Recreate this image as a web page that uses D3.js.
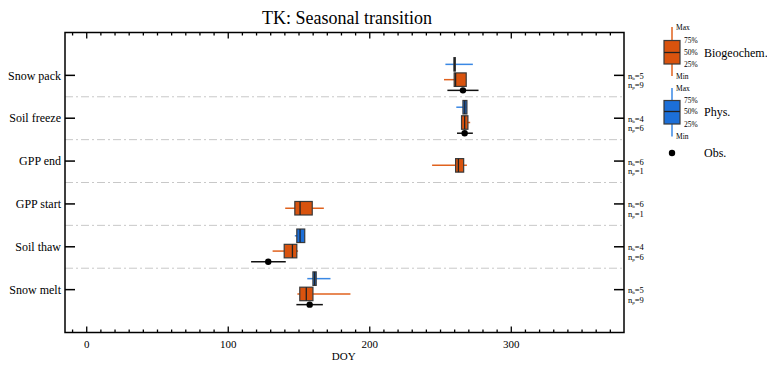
<!DOCTYPE html>
<html>
<head>
<meta charset="utf-8">
<script src="https://cdn.jsdelivr.net/npm/d3@7"></script>
<style>
  body { margin: 0; background: #fff; }
  svg, svg text { font-family: "Liberation Serif", "DejaVu Serif", serif !important; }
</style>
</head>
<body>
<div id="chart"></div>
<script>
// categories, top to bottom
const categories = ["Snow pack", "Soil freeze", "GPP end", "GPP start", "Soil thaw", "Snow melt"];
// [min, q1, median, q3, max] in DOY
const bioStats = [
  [252.8, 260.0, 261.0, 268.5, 268.5],
  [265.0, 265.2, 267.4, 269.7, 271.3],
  [244.4, 261.0, 263.0, 266.7, 269.0],
  [140.6, 147.4, 151.1, 159.7, 167.9],
  [131.7, 139.9, 145.7, 148.8, 149.7],
  [149.2, 150.9, 155.5, 160.2, 186.7]
];
const physStats = [
  [253.8, 259.8, 260.3, 260.8, 273.2],
  [261.5, 266.2, 267.5, 269.0, 269.0],
  null,
  null,
  [147.4, 148.8, 151.1, 154.4, 154.6],
  [156.2, 160.2, 161.4, 162.5, 172.6]
];
// [low, value, high]
const obsStats = [
  [255.2, 266.2, 277.2],
  [262.0, 267.4, 273.2],
  null,
  null,
  [116.5, 128.6, 141.0],
  [148.5, 157.9, 167.2]
];
const nBio = [5, 4, 6, 6, 4, 5];
const nPhys = [9, 6, 1, 1, 6, 9];
const xTicks = [0, 100, 200, 300];

const orange = "#d9530e", orangeLine = "#e0621e";
const blue = "#1c6fd8", blueLine = "#3a88e4";

const width = 767, height = 365;
const margin = { top: 32.5, right: 143, bottom: 32.5, left: 65 };
const plotW = width - margin.left - margin.right;
const plotH = height - margin.top - margin.bottom;

const svg = d3.select("#chart").append("svg")
  .attr("width", width).attr("height", height)
  .attr("font-family", "Liberation Serif, serif");

const x = d3.scaleLinear().domain([-15, 380]).range([margin.left, margin.left + plotW]);
const y = d3.scaleLinear().domain([0, 7]).range([margin.top + plotH, margin.top]);
const catY = i => y(categories.length - i);

// title
svg.append("text")
  .attr("x", 347).attr("y", 24)
  .attr("text-anchor", "middle")
  .style("font-size", "18px")
  .text("TK: Seasonal transition");

// separators
const seps = d3.range(1.5, 6, 1);
svg.append("g").selectAll("line").data(seps).join("line")
  .attr("x1", margin.left).attr("x2", margin.left + plotW)
  .attr("y1", d => y(d)).attr("y2", d => y(d))
  .attr("stroke", "#c8c8c8").attr("stroke-width", 1)
  .attr("stroke-dasharray", "8,3,2,3");

// x axes (inward ticks)
const minor = d3.range(-10, 380, 10).filter(v => v % 100 !== 0);
function xAxisGroup(gen, yPos, labels) {
  const g = svg.append("g").attr("transform", `translate(0,${yPos})`);
  g.call(gen(x).tickValues(minor).tickSize(-3).tickFormat(""))
    .call(s => s.select(".domain").remove());
  g.append("g").call(gen(x).tickValues(xTicks).tickSize(-6).tickFormat(labels ? d3.format("d") : ""))
    .call(s => s.select(".domain").remove());
  g.selectAll("line").attr("stroke", "#000").attr("stroke-width", 1.3);
  g.selectAll("g").attr("font-family", null);
  return g;
}
const bottomAx = xAxisGroup(d3.axisBottom, margin.top + plotH, true);
bottomAx.selectAll("text").attr("y", 8).style("font-size", "11px");
xAxisGroup(d3.axisTop, margin.top, false);

svg.append("text")
  .attr("x", x(182)).attr("y", 360)
  .attr("text-anchor", "middle")
  .style("font-size", "11px")
  .text("DOY");

// category ticks left and right
const rows = svg.append("g").selectAll("g").data(categories).join("g");
rows.append("line")
  .attr("x1", margin.left).attr("x2", margin.left + 10)
  .attr("y1", (d, i) => catY(i)).attr("y2", (d, i) => catY(i))
  .attr("stroke", "#000").attr("stroke-width", 1.5);
rows.append("line")
  .attr("x1", margin.left + plotW - 10).attr("x2", margin.left + plotW)
  .attr("y1", (d, i) => catY(i)).attr("y2", (d, i) => catY(i))
  .attr("stroke", "#000").attr("stroke-width", 1.5);
rows.append("text")
  .attr("x", margin.left - 4).attr("y", (d, i) => catY(i))
  .attr("dy", "0.35em").attr("text-anchor", "end")
  .style("font-size", "12px")
  .text(d => d);

// n labels on the right
const nx = margin.left + plotW + 4;
const nLabel = (letter, vals, dy) => rows.append("text")
  .attr("x", nx)
  .attr("y", (d, i) => catY(i) + dy)
  .style("font-size", "8.5px")
  .each(function (d, i) {
    const t = d3.select(this);
    t.append("tspan").text("n");
    t.append("tspan").attr("dy", 1).style("font-size", "5px").text(letter);
    t.append("tspan").attr("dy", -1).text("=" + vals[i]);
  });
nLabel("b", nBio, 3.5);
nLabel("p", nPhys, 13);

// box drawing
const boxH = 13.5;
function drawBox(g, s, cy, fill, line) {
  g.append("line")
    .attr("x1", x(s[0])).attr("x2", x(s[4]))
    .attr("y1", cy).attr("y2", cy)
    .attr("stroke", line).attr("stroke-width", 1.5);
  g.append("rect")
    .attr("x", x(s[1])).attr("y", cy - boxH / 2)
    .attr("width", Math.max(x(s[3]) - x(s[1]), 1)).attr("height", boxH)
    .attr("fill", fill).attr("stroke", "#3a3a3a").attr("stroke-width", 1.2);
  g.append("line")
    .attr("x1", x(s[2])).attr("x2", x(s[2]))
    .attr("y1", cy - boxH / 2).attr("y2", cy + boxH / 2)
    .attr("stroke", "#222").attr("stroke-width", 1.3);
}

const marks = svg.append("g");
categories.forEach((c, i) => {
  const cy = catY(i);
  const g = marks.append("g");
  if (physStats[i]) drawBox(g, physStats[i], cy - 11, blue, blueLine);
  drawBox(g, bioStats[i], cy + 4.3, orange, orangeLine);
  const o = obsStats[i];
  if (o) {
    g.append("line")
      .attr("x1", x(o[0])).attr("x2", x(o[2]))
      .attr("y1", cy + 15).attr("y2", cy + 15)
      .attr("stroke", "#111").attr("stroke-width", 1.5);
    g.append("circle")
      .attr("cx", x(o[1])).attr("cy", cy + 15).attr("r", 3.2)
      .attr("fill", "#000");
  }
});

// frame
svg.append("rect")
  .attr("x", margin.left).attr("y", margin.top)
  .attr("width", plotW).attr("height", plotH)
  .attr("fill", "none").attr("stroke", "#000").attr("stroke-width", 1.5);

// legend
const legend = svg.append("g");
const lgX = 672, lgBoxW = 16;
function legendBox(top, bot, q3, q1, med, fill, line, label) {
  legend.append("line").attr("x1", lgX).attr("x2", lgX).attr("y1", top).attr("y2", bot)
    .attr("stroke", line).attr("stroke-width", 1.5);
  legend.append("rect").attr("x", lgX - lgBoxW / 2).attr("y", q3)
    .attr("width", lgBoxW).attr("height", q1 - q3)
    .attr("fill", fill).attr("stroke", "#3a3a3a").attr("stroke-width", 1.2);
  legend.append("line").attr("x1", lgX - lgBoxW / 2).attr("x2", lgX + lgBoxW / 2)
    .attr("y1", med).attr("y2", med).attr("stroke", "#222").attr("stroke-width", 1.3);
  const small = [["Max", top, 676], ["75%", q3, 684], ["50%", med, 684], ["25%", q1, 684], ["Min", bot, 676]];
  small.forEach(([t, yy, xx]) => legend.append("text").attr("x", xx).attr("y", yy)
    .attr("dy", "0.35em").style("font-size", "7.5px").text(t));
  legend.append("text").attr("x", 704).attr("y", med).attr("dy", "0.35em")
    .style("font-size", "12px").text(label);
}
legendBox(27, 76, 40.5, 64, 52.5, orange, orangeLine, "Biogeochem.");
legendBox(88, 136.5, 100.5, 124, 111.5, blue, blueLine, "Phys.");
legend.append("circle").attr("cx", lgX).attr("cy", 153).attr("r", 3.2).attr("fill", "#000");
legend.append("text").attr("x", 704).attr("y", 153).attr("dy", "0.35em")
  .style("font-size", "12px").text("Obs.");
</script>
</body>
</html>
